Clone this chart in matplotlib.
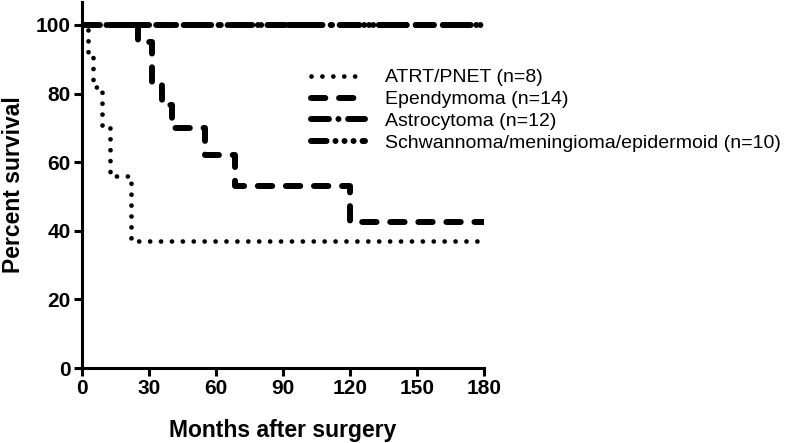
import matplotlib
matplotlib.use('Agg')
import matplotlib.pyplot as plt

plt.rcParams['font.family'] = ['Liberation Sans', 'DejaVu Sans']

# Kaplan-Meier steps (months, percent survival)
atrt_months = [0, 2.7, 4.9, 9, 12.5, 22, 180]
atrt_surv = [100, 91, 82, 70, 56, 37, 37]

epen_months = [0, 25, 31.3, 35.8, 40.3, 55, 68.5, 120, 180]
epen_surv = [100, 95, 82.5, 76.7, 70, 62, 53, 42.5, 42.5]

astro_months = [0, 180]
astro_surv = [100, 100]

schwan_months = [0, 180]
schwan_surv = [100, 100]

labels = ['ATRT/PNET (n=8)', 'Ependymoma (n=14)', 'Astrocytoma (n=12)',
          'Schwannoma/meningioma/epidermoid (n=10)']

fig = plt.figure(figsize=(7.88, 4.43), dpi=100)
ax = fig.add_axes([82/788, 1 - 368/443, 402/788, 366/443])

common = dict(color='black', drawstyle='steps-post', dash_capstyle='round',
              solid_capstyle='round')

ax.plot(schwan_months, schwan_surv, linewidth=4.3,
        linestyle=(0, (2.6, 1.5, 0.01, 1.5, 0.01, 1.5, 0.01, 1.5)),
        label=labels[3], **common)
ax.plot(astro_months, astro_surv, linewidth=4.3,
        linestyle=(0, (3.0, 1.6, 0.01, 1.6)), label=labels[2], **common)
ax.plot(epen_months, epen_surv, linewidth=4.3,
        linestyle=(0, (2.4, 2.3)), label=labels[1], **common)
ax.plot(atrt_months, atrt_surv, linewidth=3.4,
        linestyle=(0, (0.01, 2.3)), label=labels[0], **common)

ax.set_xlim(0, 180)
ax.set_ylim(0, 106.7)
ax.set_xticks(range(0, 181, 30))
ax.set_yticks(range(0, 101, 20))

ax.spines['top'].set_visible(False)
ax.spines['right'].set_visible(False)
ax.spines['left'].set_linewidth(2.2)
ax.spines['bottom'].set_linewidth(2.2)
ax.tick_params(width=2.2, length=6, labelsize=15, pad=2)
for lbl in ax.get_xticklabels() + ax.get_yticklabels():
    lbl.set_fontweight('bold')

ax.set_xlabel('Months after surgery', fontsize=16.5, weight='bold', labelpad=15)
ax.set_ylabel('Percent survival', fontsize=16.5, weight='bold', labelpad=8)

handles, lbls = ax.get_legend_handles_labels()
order = [3, 2, 1, 0]
ax.legend([handles[i] for i in order], [lbls[i] for i in order],
          loc='upper left', bbox_to_anchor=(305/788, 1 - 63/443),
          bbox_transform=fig.transFigure, frameon=False, fontsize=14,
          handlelength=2.8, handletextpad=1.0, labelspacing=0.22,
          borderaxespad=0, borderpad=0.3)

fig.savefig('out.png', dpi=100)
